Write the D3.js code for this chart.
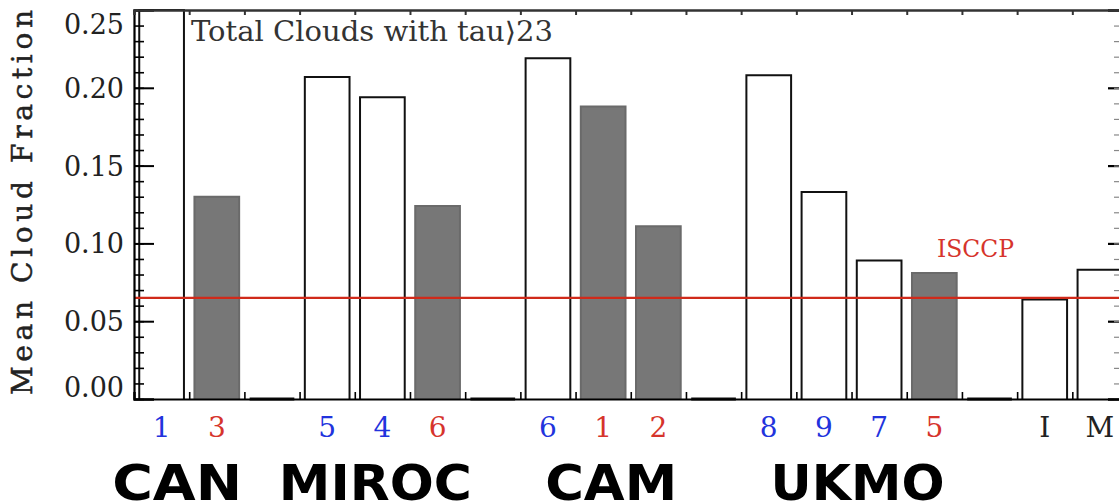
<!DOCTYPE html>
<html>
<head>
<meta charset="utf-8">
<script src="https://cdn.jsdelivr.net/npm/d3@7"></script>
<style>
  html, body { margin: 0; padding: 0; background: #fff; }
  svg { display: block; }
</style>
</head>
<body>
<svg id="chart" width="1119" height="504"></svg>
<script>
// ---------------- data ----------------
const barLabels = ["1","3","","5","4","6","","6","1","2","","8","9","7","5","","I","M"];
const labelKinds = ["blue","red","","blue","blue","red","","blue","red","red","","blue","blue","blue","red","","black","black"];
const barValues = [0.250,0.130,0,0.207,0.194,0.124,0,0.219,0.188,0.111,0,0.208,0.133,0.089,0.081,0,0.064,0.083];
const barFilled = [false,true,false,false,false,true,false,false,true,true,false,false,false,false,true,false,false,false];
const groupNames = ["CAN","MIROC","CAM","UKMO"];
const groupFirst = [0,3,7,11];
const groupLast  = [1,5,9,14];
const isccpValue = 0.065;
const yTicks = [0.00,0.05,0.10,0.15,0.20,0.25];
const titleText = "Total Clouds with tau\u27E923";
const yLabel = "Mean Cloud Fraction";

// ---------------- layout ----------------
(function () {
const svg = d3.select("#chart");
const pL = 134, pR = 1122, pT = 10, pB = 399;
const x = d3.scaleLinear().domain([0, 17.9]).range([pL, pR]);
const y = d3.scaleLinear().domain([0, 0.25]).range([pB, pT]);
const barW = 0.81;
const colorMap = {blue: "#2233dd", red: "#d6342c", black: "#222"};
const serif = "'DejaVu Serif', 'Liberation Serif', serif";

// bars
svg.append("g").selectAll("path").data(barValues).join("path")
  .attr("d", (v, i) => {
    const x0 = x(i + 0.5 - barW / 2), x1 = x(i + 0.5 + barW / 2);
    const y0 = y(0), y1 = y(v);
    return `M${x0},${y0}V${y1}H${x1}V${y0}`;
  })
  .attr("fill", (v, i) => barFilled[i] ? "#777777" : "#ffffff")
  .attr("stroke", (v, i) => barFilled[i] ? "#6a6a6a" : "#111")
  .attr("stroke-width", (v, i) => v === 0 ? 3 : 2);

// ISCCP line
svg.append("line")
  .attr("x1", pL).attr("x2", 1119)
  .attr("y1", y(isccpValue)).attr("y2", y(isccpValue))
  .attr("stroke", "#d02a1a").attr("stroke-width", 2.2);

svg.append("text")
  .attr("x", 937).attr("y", y(isccpValue) - 41)
  .attr("font-family", serif).attr("font-size", 25)
  .attr("fill", "#d6342c")
  .attr("textLength", 77).attr("lengthAdjust", "spacingAndGlyphs")
  .text("ISCCP");

// left axis
const gL = svg.append("g").attr("transform", `translate(${pL},0)`)
  .call(d3.axisRight(y).tickValues(yTicks).tickSize(20).tickFormat(""));
gL.select(".domain").attr("stroke-width", 2.2);
gL.selectAll(".tick line").attr("stroke-width", 2);
const minor = d3.range(0, 0.2501, 0.01);
const gLm = svg.append("g").attr("transform", `translate(${pL},0)`)
  .call(d3.axisRight(y).tickValues(minor).tickSize(10).tickFormat(""));
gLm.select(".domain").remove();
gLm.selectAll(".tick line").attr("stroke-width", 1.6);

// left tick labels (end labels kept inside the frame)
svg.append("g").selectAll("text").data(yTicks).join("text")
  .attr("x", 124).attr("y", d => Math.min(Math.max(y(d), 24), 387) + 10)
  .attr("text-anchor", "end")
  .attr("font-family", serif).attr("font-size", 27).attr("fill", "#222")
  .text(d => d3.format(".2f")(d));

// right axis
const gR = svg.append("g").attr("transform", `translate(${pR},0)`)
  .call(d3.axisLeft(y).tickValues(yTicks).tickSize(14).tickFormat(""));
gR.selectAll(".tick line").attr("stroke-width", 2.2);
gR.select(".domain").attr("stroke-width", 2);
const gRm = svg.append("g").attr("transform", `translate(${pR},0)`)
  .call(d3.axisLeft(y).tickValues(minor).tickSize(8).tickFormat(""));
gRm.select(".domain").remove();
gRm.selectAll(".tick line").attr("stroke-width", 1.2).attr("stroke", "#888");

// top axis
const xt = d3.range(0, 18, 1);
const gT = svg.append("g").attr("transform", `translate(0,${pT})`)
  .call(d3.axisBottom(x).tickValues(xt).tickSize(5).tickFormat(""));
gT.select(".domain").attr("stroke-width", 2.5).attr("stroke", "#333");
gT.selectAll(".tick line").attr("stroke-width", 2).attr("stroke", "#333");

// bottom axis
const gB = svg.append("g").attr("transform", `translate(0,${pB})`)
  .call(d3.axisTop(x).tickValues(xt).tickSize(7).tickFormat(""));
gB.select(".domain").attr("stroke-width", 2.2);
gB.selectAll(".tick line").attr("stroke-width", 1.6);

// title
svg.append("text")
  .attr("x", 191).attr("y", 41)
  .attr("font-family", serif).attr("font-size", 27).attr("fill", "#333")
  .attr("textLength", 362).attr("lengthAdjust", "spacingAndGlyphs")
  .text(titleText);

// y label
svg.append("text")
  .attr("transform", `translate(32,${(10 + 395) / 2}) rotate(-90)`)
  .attr("text-anchor", "middle")
  .attr("font-family", serif).attr("font-size", 28).attr("fill", "#222")
  .attr("stroke", "#222").attr("stroke-width", 0.5)
  .attr("textLength", 385).attr("lengthAdjust", "spacing")
  .text(yLabel);

// bar labels
svg.append("g").selectAll("text").data(barLabels).join("text")
  .attr("x", (d, i) => x(i + 0.5))
  .attr("y", 437)
  .attr("text-anchor", "middle")
  .attr("font-family", serif).attr("font-size", 28)
  .attr("fill", (d, i) => colorMap[labelKinds[i]] || "#000")
  .text(d => d);

// group labels
const groupNudge = [-12, -7, 8, 6];
const groupLen = [130, 193, 132, 174];
svg.append("g").selectAll("text").data(groupNames).join("text")
  .attr("x", (d, i) => (x(groupFirst[i] + 0.5) + x(groupLast[i] + 0.5)) / 2 + groupNudge[i])
  .attr("y", 500)
  .attr("text-anchor", "middle")
  .attr("font-family", "'DejaVu Sans', sans-serif").attr("font-weight", "bold")
  .attr("font-size", 50).attr("fill", "#000")
  .attr("textLength", (d, i) => groupLen[i]).attr("lengthAdjust", "spacingAndGlyphs")
  .text(d => d);
})();
</script>
</body>
</html>
